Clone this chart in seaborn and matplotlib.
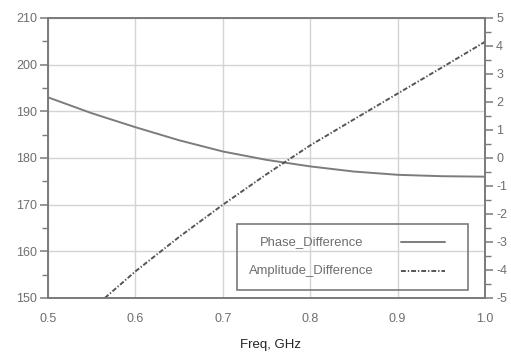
import numpy as np
import pandas as pd
import matplotlib
matplotlib.use("Agg")
import matplotlib.pyplot as plt
from matplotlib.ticker import MultipleLocator
from matplotlib.patches import Rectangle
from matplotlib.lines import Line2D
import seaborn as sns

# Phase difference (deg, left axis) vs frequency
freq_phase = [0.50, 0.55, 0.60, 0.65, 0.70, 0.75, 0.80, 0.85, 0.90, 0.95, 1.00]
phase_diff = [193.0, 189.6, 186.6, 183.8, 181.4, 179.6, 178.2, 177.1, 176.4, 176.1, 176.0]

# Amplitude difference (dB, right axis) vs frequency
freq_amp = [0.565, 0.60, 0.65, 0.70, 0.75, 0.80, 0.85, 0.90, 0.95, 1.00]
amp_diff = [-5.0, -4.05, -2.82, -1.67, -0.58, 0.45, 1.38, 2.30, 3.22, 4.15]

left_ticks = [150, 160, 170, 180, 190, 200, 210]
right_ticks = [5, 4, 3, 2, 1, 0, -1, -2, -3, -4, -5]
x_ticks = [0.5, 0.6, 0.7, 0.8, 0.9, 1.0]
series_names = ["Phase_Difference", "Amplitude_Difference"]

phase_df = pd.DataFrame({"Freq": freq_phase, series_names[0]: phase_diff})
amp_df = pd.DataFrame({"Freq": freq_amp, series_names[1]: amp_diff})

sns.set_style("white")
plt.rcParams["font.family"] = ["Liberation Sans", "DejaVu Sans"]
plt.rcParams["axes.unicode_minus"] = False

axis_col = "#7a7a7a"
text_col = "#6e6e6e"
grid_col = "#d4d4d4"
phase_col = "#7c7c7c"
amp_col = "#555555"
amp_dashes = [2.5, 1.0, 0.7, 1.0]
lw = 1.4

fig = plt.figure(figsize=(5.11, 3.58), dpi=100)
ax = fig.add_axes([48 / 511, 1 - 298 / 358, (485 - 48) / 511, (298 - 18) / 358])
ax2 = ax.twinx()

sns.lineplot(data=phase_df, x="Freq", y=series_names[0], ax=ax,
             color=phase_col, linewidth=lw, legend=False)
sns.lineplot(data=amp_df, x="Freq", y=series_names[1], ax=ax2,
             color=amp_col, linewidth=lw, legend=False)
ax2.lines[0].set_dashes(amp_dashes)

ax.set_xlim(0.5, 1.0)
ax.set_ylim(150, 210)
ax2.set_ylim(-5, 5)

ax.set_xticks(x_ticks)
ax.set_xticklabels([f"{v:.1f}" for v in x_ticks])
ax.xaxis.set_minor_locator(MultipleLocator(0.02))
ax.set_yticks(left_ticks)
ax.set_yticklabels([str(v) for v in left_ticks])
ax.yaxis.set_minor_locator(MultipleLocator(5))
ax2.set_yticks(right_ticks)
ax2.set_yticklabels([str(v) for v in right_ticks])
ax2.yaxis.set_minor_locator(MultipleLocator(0.5))

ax.grid(True, which="major", color=grid_col, linewidth=1.0)
ax.set_axisbelow(True)

for a in (ax, ax2):
    for sp in a.spines.values():
        sp.set_color(axis_col)
        sp.set_linewidth(1.2)
    a.tick_params(which="major", direction="out", length=6, width=1.1,
                  color=axis_col, labelcolor=text_col, labelsize=9, pad=2)
    a.tick_params(which="minor", direction="out", length=4, width=1.0, color=axis_col)
ax.tick_params(axis="x", which="major", pad=5)

ax.set_ylabel("")
ax2.set_ylabel("")
ax.set_xlabel("Freq, GHz", color="#222222", fontsize=9.5, labelpad=14)
ax.xaxis.set_label_coords(0.51, -0.145)

# Boxed key: centred names on the left, line samples on the right
ax2.add_patch(Rectangle((0.4325, 0.0286), 0.5285, 0.2354, transform=ax2.transAxes,
                        fill=False, edgecolor=axis_col, linewidth=1.2, zorder=5))
key_rows = [0.200, 0.0964]
key_styles = [dict(color=phase_col, linestyle="-"),
              dict(color=amp_col, dashes=amp_dashes)]
for name, yk, style in zip(series_names, key_rows, key_styles):
    ax2.text(0.603, yk, name, transform=ax2.transAxes, ha="center", va="center",
             fontsize=9.4, color=text_col, zorder=6)
    ax2.add_line(Line2D([0.808, 0.908], [yk, yk], transform=ax2.transAxes,
                        linewidth=lw, zorder=6, **style))

ax2.set_zorder(ax.get_zorder() + 1)
ax2.patch.set_visible(False)

fig.savefig("out.png", dpi=100)
